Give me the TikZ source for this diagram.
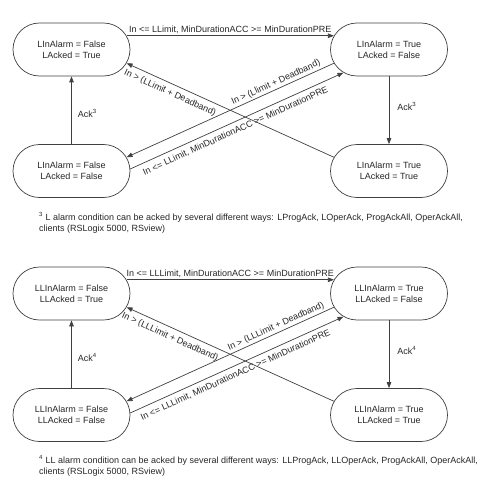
\documentclass[tikz,border=0pt]{standalone}
\usepackage{fontspec}
\setmainfont{Liberation Sans}
\usetikzlibrary{shapes.misc,arrows.meta}
\tikzset{
  state/.style={rounded rectangle, draw=black!75, line width=0.7pt, minimum width=117pt, minimum height=53pt, inner sep=0pt, align=center, text=black!85, font=\fontsize{9}{11}\selectfont},
  conn/.style={draw=black!75, line width=0.7pt, -{Triangle[length=6pt,width=4.5pt]}},
  lbl/.style={font=\fontsize{9}{11}\selectfont, text=black!85, inner sep=1pt},
  foot/.style={font=\fontsize{9}{11.5}\selectfont, text=black!85, align=left, anchor=north west, inner sep=0pt}
}
\begin{document}
\begin{tikzpicture}[x=1pt,y=-1pt]
\useasboundingbox (0,0) rectangle (489,500);
% ---------- upper diagram ----------
\node[state] (atl) at (71.5,49.5) {LInAlarm = False\\LAcked = True};
\node[state] (atr) at (389,49.5) {LInAlarm = True\\LAcked = False};
\node[state] (abl) at (71.5,171) {LInAlarm = False\\LAcked = False};
\node[state] (abr) at (389,171) {LInAlarm = True\\LAcked = True};
\draw[conn] (atl.14) -- node[lbl, above=1pt] {In <= LLimit, MinDurationACC >= MinDurationPRE} (atr.166);
\draw[conn] (abl.north) -- node[lbl, right=5pt, pos=0.45] {Ack\textsuperscript{3}} (atl.south);
\draw[conn] (atr.south) -- node[lbl, right=7pt, pos=0.45] {Ack\textsuperscript{3}} (abr.north);
\draw[conn] (abr.166) -- (atl.-14);
\draw[conn] (atr.194) -- (abl.14);
\draw[conn] (abl.2) -- (atr.207);
\node[lbl, rotate=-24.5] (al1) at (170,93) {In > (LLimit + Deadband)};
\node[lbl, rotate=24.5] (al2) at (276,82.5) {In > (Llimit + Deadband)};
\node[lbl, rotate=24.5] (al3) at (235.5,131) {In <= LLimit, MinDurationACC >= MinDurationPRE};
\node[foot] (afoot) at (39,212) {\textsuperscript{3} L alarm condition can be acked by several different ways: LProgAck, LOperAck, ProgAckAll, OperAckAll,\\clients (RSLogix 5000, RSview)};
% ---------- lower diagram ----------
\begin{scope}[shift={(0,244)}]
\node[state] (btl) at (71.5,49.5) {LLInAlarm = False\\LLAcked = True};
\node[state] (btr) at (389,49.5) {LLInAlarm = True\\LLAcked = False};
\node[state] (bbl) at (71.5,171) {LLInAlarm = False\\LLAcked = False};
\node[state] (bbr) at (389,171) {LLInAlarm = True\\LLAcked = True};
\draw[conn] (btl.14) -- node[lbl, above=1pt] {In <= LLLimit, MinDurationACC >= MinDurationPRE} (btr.166);
\draw[conn] (bbl.north) -- node[lbl, right=5pt, pos=0.45] {Ack\textsuperscript{4}} (btl.south);
\draw[conn] (btr.south) -- node[lbl, right=7pt, pos=0.45] {Ack\textsuperscript{4}} (bbr.north);
\draw[conn] (bbr.166) -- (btl.-14);
\draw[conn] (btr.194) -- (bbl.14);
\draw[conn] (bbl.2) -- (btr.207);
\node[lbl, rotate=-24.5] (bl1) at (170,93) {In > (LLLimit + Deadband)};
\node[lbl, rotate=24.5] (bl2) at (276,82.5) {In > (LLLimit + Deadband)};
\node[lbl, rotate=24.5] (bl3) at (235.5,131) {In <= LLLimit, MinDurationACC >= MinDurationPRE};
\node[foot] (bfoot) at (39,211) {\textsuperscript{4} LL alarm condition can be acked by several different ways: LLProgAck, LLOperAck, ProgAckAll, OperAckAll,\\clients (RSLogix 5000, RSview)};
\end{scope}
\end{tikzpicture}
\end{document}
